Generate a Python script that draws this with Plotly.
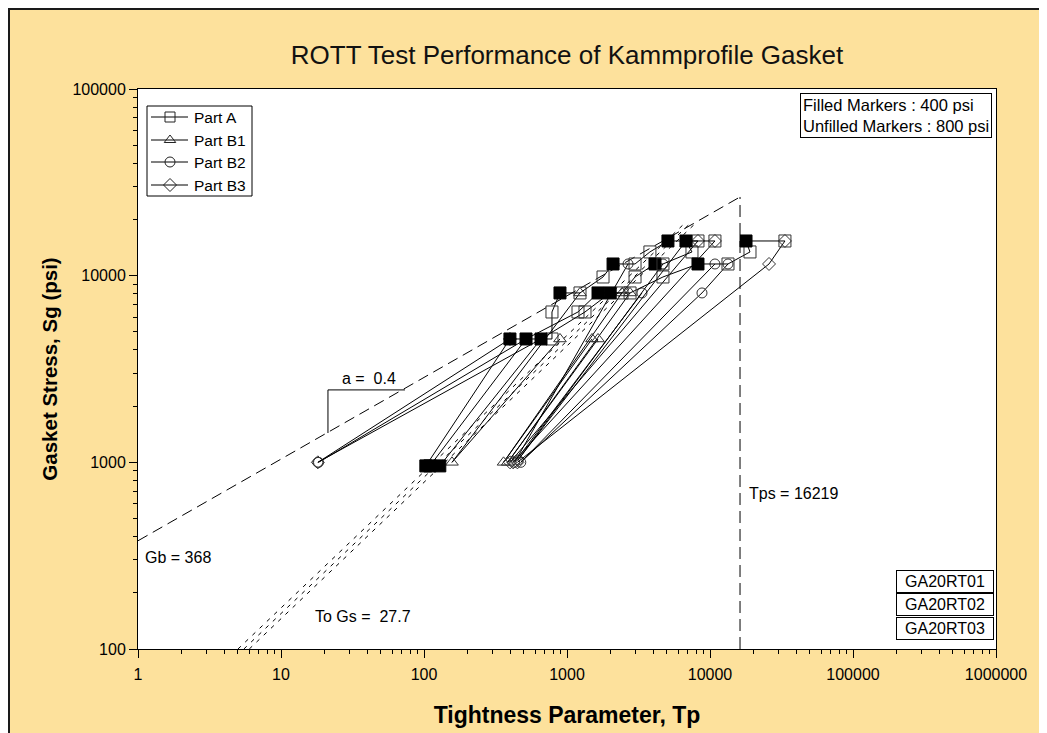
import math
import plotly.graph_objects as go

# ---------------- data ----------------
# Part A (squares) for the three tests; filled = 400 psi, unfilled = 800 psi
A1_tp = [103, 399, 785, 785, 893, 1233, 1786, 2099, 2991, 3800, 5080, 8240]
A1_sg = [957, 4580, 4580, 6390, 8080, 8080, 9840, 11550, 11550, 13400, 15340, 15340]
A1_fill = [1, 1, 0, 0, 1, 0, 0, 1, 0, 0, 1, 0]

A2_tp = [110, 517, 1194, 1648, 2425, 2991, 4124, 4690, 7480, 6790, 10830]
A2_sg = [957, 4580, 6390, 8080, 8080, 9840, 11550, 11550, 13400, 15340, 15340]
A2_fill = [1, 1, 0, 1, 0, 0, 1, 0, 0, 1, 0]

A3_tp = [129, 658, 1336, 2000, 2760, 4690, 8240, 13360, 19040, 17860, 33430]
A3_sg = [957, 4580, 6390, 8080, 8080, 9840, 11550, 11550, 13400, 15340, 15340]
A3_fill = [1, 1, 0, 1, 0, 0, 1, 0, 0, 1, 0]

# Part B1 (triangles)
B1_1_tp = [893, 157, 1233]
B1_1_sg = [4580, 1000, 8080]
B1_2_tp = [1496, 360, 2425]
B1_2_sg = [4580, 1000, 8080]
B1_3_tp = [1648, 385, 2760]
B1_3_sg = [4580, 1000, 8080]

# Part B2 (circles)
B2_1_tp = [3345, 430, 2672]
B2_1_sg = [8080, 1000, 11550]
B2_2_tp = [18.3, 517, None, 4690, 455, 6790]
B2_2_sg = [1000, 4580, None, 11550, 1030, 15340]
B2_3_tp = [18.1, 658, None, 13360, 8790, 475, 10830]
B2_3_sg = [1000, 4580, None, 11550, 8080, 1000, 11550]

# Part B3 (diamonds)
B3_1_tp = [18.1, 399, None, 8240, 400]
B3_1_sg = [1000, 4580, None, 15340, 1000]
B3_2_tp = [10830, 420]
B3_2_sg = [15340, 1000]
B3_3_tp = [33430, 25870, 450]
B3_3_sg = [15340, 11550, 1000]

# Fit lines
gb_tp = [1, 16219]            # Gb line (a = 0.4)
gb_sg = [380, 26400]
tps_tp = [16219, 16219]       # Tps vertical line
tps_sg = [100, 26400]
gs_tp_start = [5.0, 5.5, 6.0]  # three "To Gs" lines
gs_tp_end = [6800, 7450, 8100]
gs_sg = [100, 19400]
lead_tp = [73.6, 21.3, 21.3]  # leader of "a = 0.4"
lead_sg = [2443, 2443, 1436]

x_ticks = [1, 10, 100, 1000, 10000, 100000, 1000000]
y_ticks = [100, 1000, 10000, 100000]
legend_names = ["Part A", "Part B1", "Part B2", "Part B3"]
legend_symbols = ["square-open", "triangle-up-open", "circle-open", "diamond-open"]
test_names = ["GA20RT01", "GA20RT02", "GA20RT03"]

FONT = "Arial, Liberation Sans, sans-serif"
TAN = "#FDE19C"

fig = go.Figure()

# dashed reference lines
for s, e in zip(gs_tp_start, gs_tp_end):
    fig.add_trace(go.Scatter(x=[s, e], y=gs_sg, mode="lines",
                             line=dict(color="black", width=1, dash="4px,6px"),
                             showlegend=False, hoverinfo="skip"))
fig.add_trace(go.Scatter(x=gb_tp, y=gb_sg, mode="lines",
                         line=dict(color="black", width=1, dash="11px,6px"),
                         showlegend=False, hoverinfo="skip"))
fig.add_trace(go.Scatter(x=tps_tp, y=tps_sg, mode="lines",
                         line=dict(color="black", width=1, dash="12px,6px"),
                         showlegend=False, hoverinfo="skip"))
fig.add_trace(go.Scatter(x=lead_tp, y=lead_sg, mode="lines",
                         line=dict(color="black", width=1),
                         showlegend=False, hoverinfo="skip"))


def add_series(tp, sg, fill, sym, size):
    symbols = [sym if f else sym + "-open" for f in fill]
    colors = ["black" if f else "#333333" for f in fill]
    fig.add_trace(go.Scatter(
        x=tp, y=sg, mode="lines+markers", connectgaps=False,
        line=dict(color="black", width=1),
        marker=dict(symbol=symbols, size=size, color=colors,
                    line=dict(color=colors, width=1)),
        showlegend=False))


def opens(vals):
    return [0 for _ in vals]


for tp, sg in [(B1_1_tp, B1_1_sg), (B1_2_tp, B1_2_sg), (B1_3_tp, B1_3_sg)]:
    add_series(tp, sg, opens(tp), "triangle-up", 11)
for tp, sg in [(B2_1_tp, B2_1_sg), (B2_2_tp, B2_2_sg), (B2_3_tp, B2_3_sg)]:
    add_series(tp, sg, opens(tp), "circle", 10)
for tp, sg in [(B3_1_tp, B3_1_sg), (B3_2_tp, B3_2_sg), (B3_3_tp, B3_3_sg)]:
    add_series(tp, sg, opens(tp), "diamond", 10)
for tp, sg, fl in [(A1_tp, A1_sg, A1_fill), (A2_tp, A2_sg, A2_fill), (A3_tp, A3_sg, A3_fill)]:
    add_series(tp, sg, fl, "square", 12)

# page offset of the figure (body margin) and plot area in page pixels
OFF = 8
L, R, T, B = 138, 996, 89, 649
W, H = R - L, B - T
FW, FH = 1047, 733


def px(x):
    return (x - L) / W


def py(y):
    return (B - y) / H


# ---- hand-drawn legend on an overlay pixel axis ----
LEG_BOX = (147, 252, 106, 196)
LEG_ROWS = [117, 140, 162, 185]
bx0, bx1, by0, by1 = LEG_BOX
fig.add_trace(go.Scatter(x=[bx0, bx1, bx1, bx0, bx0], y=[by0, by0, by1, by1, by0],
                         xaxis="x2", yaxis="y2", mode="lines", fill="toself",
                         fillcolor="white", line=dict(color="black", width=1),
                         showlegend=False, hoverinfo="skip"))
for yc, sym in zip(LEG_ROWS, legend_symbols):
    fig.add_trace(go.Scatter(x=[151, 188], y=[yc, yc], xaxis="x2", yaxis="y2",
                             mode="lines", line=dict(color="black", width=1),
                             showlegend=False, hoverinfo="skip"))
    fig.add_trace(go.Scatter(x=[170], y=[yc], xaxis="x2", yaxis="y2", mode="markers",
                             marker=dict(symbol=sym, size=10, color="#222",
                                         line=dict(width=1, color="#222")),
                             showlegend=False, hoverinfo="skip"))

minor_x = [m * 10 ** d for d in range(0, 6) for m in range(2, 10)]
minor_y = [m * 10 ** d for d in range(2, 5) for m in range(2, 10)]

fig.update_xaxes(type="log", range=[0, 6], tickvals=x_ticks,
                 ticktext=[str(v) for v in x_ticks],
                 ticks="outside", ticklen=8, tickcolor="black",
                 minor=dict(tickmode="array", tickvals=minor_x, ticks="outside",
                            ticklen=4, tickcolor="black", showgrid=False),
                 showgrid=False, zeroline=False, showline=True, linecolor="black",
                 linewidth=1, mirror=True, ticklabelstandoff=3,
                 tickfont=dict(size=16, color="black", family=FONT),
                 title=dict(text="<b>Tightness Parameter, Tp</b>",
                            font=dict(size=23, color="black", family=FONT), standoff=24),
                 selector=dict(type="log") if False else None)
fig.update_yaxes(type="log", range=[2, 5], tickvals=y_ticks,
                 ticktext=[str(v) for v in y_ticks],
                 ticks="outside", ticklen=8, tickcolor="black",
                 minor=dict(tickmode="array", tickvals=minor_y, ticks="outside",
                            ticklen=4, tickcolor="black", showgrid=False),
                 showgrid=False, zeroline=False, showline=True, linecolor="black",
                 linewidth=1, mirror=True,
                 tickfont=dict(size=16, color="black", family=FONT),
                 title=dict(text="<b>Gasket Stress, Sg (psi)</b>",
                            font=dict(size=20.5, color="black", family=FONT), standoff=9))

# dark frame at the figure edge
fig.add_shape(type="rect", xref="paper", yref="paper", layer="below",
              x0=px(OFF), x1=px(OFF + FW), y0=py(OFF + FH), y1=py(OFF),
              fillcolor="rgba(0,0,0,0)", line=dict(color="#1a1a1a", width=4))

ann = []
txt = dict(size=16, family=FONT, color="black")
ann.append(dict(x=math.log10(41), y=math.log10(2830), xref="x", yref="y", xanchor="center",
                text="a =  0.4", showarrow=False, font=txt))
ann.append(dict(x=math.log10(1.08), y=math.log10(311), xref="x", yref="y", xanchor="left",
                text="Gb = 368", showarrow=False, font=txt))
ann.append(dict(x=math.log10(37.4), y=math.log10(150), xref="x", yref="y", xanchor="center",
                text="To Gs =  27.7", showarrow=False, font=txt))
ann.append(dict(x=math.log10(38600), y=math.log10(678), xref="x", yref="y", xanchor="center",
                text="Tps = 16219", showarrow=False, font=txt))
ann.append(dict(x=px(992), y=py(93), xref="paper", yref="paper", xanchor="right", yanchor="top",
                text="Filled Markers : 400 psi<br>Unfilled Markers : 800 psi", align="left",
                showarrow=False, bgcolor="white", bordercolor="black", borderwidth=1, borderpad=2,
                font=dict(size=16.5, family=FONT, color="black")))
for i, name in enumerate(test_names):
    ann.append(dict(x=px(945), y=py(581 + 23.5 * i), xref="paper", yref="paper",
                    xanchor="center", yanchor="middle",
                    text=name, showarrow=False, width=92, bgcolor="white",
                    bordercolor="black", borderwidth=1, borderpad=2,
                    font=dict(size=16, family=FONT, color="black")))
for yc, name in zip(LEG_ROWS, legend_names):
    ann.append(dict(x=192, y=yc, xref="x2", yref="y2", xanchor="left", yanchor="middle",
                    text=name, showarrow=False,
                    font=dict(size=15.5, family=FONT, color="black")))

fig.update_layout(
    width=FW, height=FH,
    margin=dict(l=L - OFF, r=FW - (R - OFF), t=T - OFF, b=FH - (B - OFF)),
    paper_bgcolor=TAN, plot_bgcolor="white",
    font=dict(family=FONT, color="black"),
    title=dict(text="ROTT Test Performance of Kammprofile Gasket",
               x=0.5, xanchor="center", xref="paper",
               y=1 - (55 - OFF) / FH, yanchor="middle", yref="container",
               font=dict(size=26, family=FONT, color="#111")),
    xaxis2=dict(overlaying="x", anchor="y2", range=[L, R], visible=False, fixedrange=True),
    yaxis2=dict(overlaying="y", anchor="x2", range=[B, T], visible=False, fixedrange=True),
    annotations=ann,
    showlegend=False,
)

fig.write_html("out.html")
